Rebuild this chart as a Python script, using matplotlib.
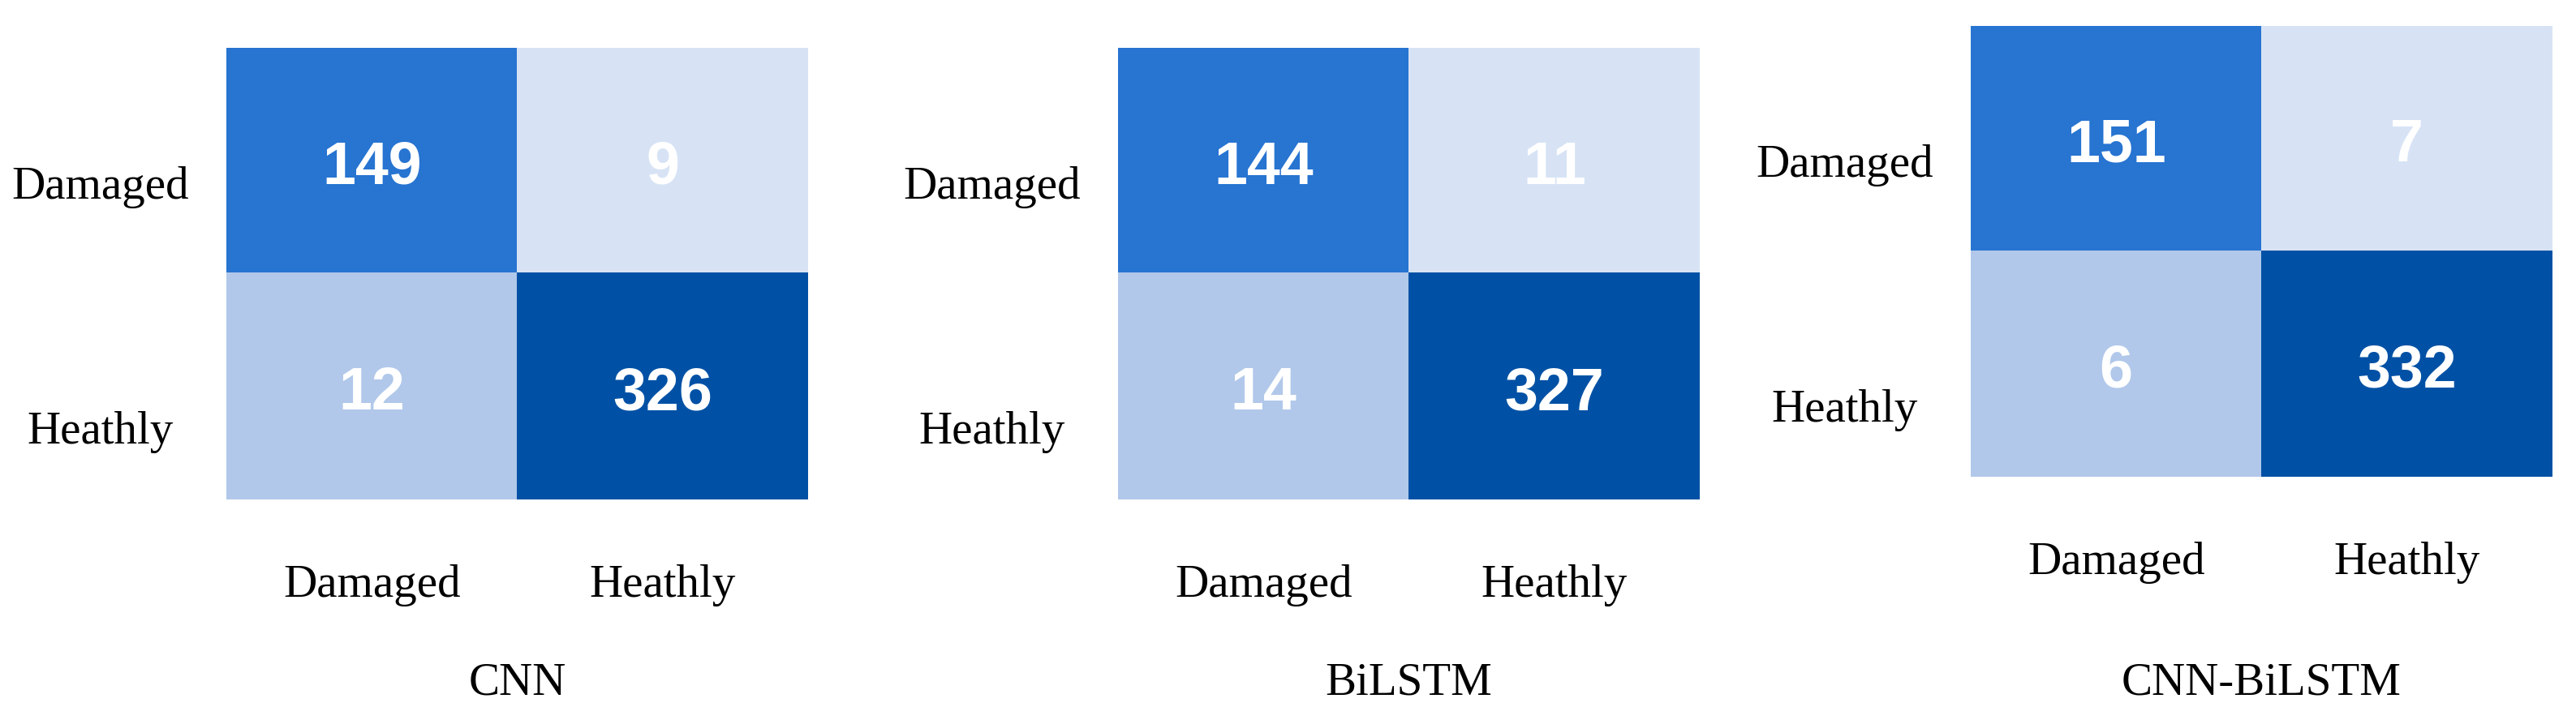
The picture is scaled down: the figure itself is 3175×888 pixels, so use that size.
import numpy as np
import matplotlib
matplotlib.use("Agg")
import matplotlib.pyplot as plt
from matplotlib.colors import ListedColormap, BoundaryNorm

# ---------------- data ----------------
models = ["CNN", "BiLSTM", "CNN-BiLSTM"]
classes = ["Damaged", "Heathly"]
cm_cnn = [[149, 9], [12, 326]]
cm_bilstm = [[144, 11], [14, 327]]
cm_cnn_bilstm = [[151, 7], [6, 332]]
matrices = [cm_cnn, cm_bilstm, cm_cnn_bilstm]

# ---------------- style ----------------
W, H = 3175, 888
DPI = 100
cell_colors = ["#D7E3F5", "#B1C8EA", "#2774D1", "#0051A5"]
bounds = [0.0, 0.035, 0.5, 0.965, 1.0001]
cmap = ListedColormap(cell_colors)
norm = BoundaryNorm(bounds, cmap.N)

serif = ["Liberation Serif", "DejaVu Serif"]
sans = ["Liberation Sans", "DejaVu Sans"]

# axes boxes in pixels: left, top, right, bottom
boxes = [(279, 59, 996, 616), (1378, 59, 2095, 616), (2429, 32, 3146, 588)]

fig = plt.figure(figsize=(W / DPI, H / DPI), dpi=DPI)
fig.patch.set_facecolor("white")

def fx(px):
    return px / W

def fy(py):
    return 1 - py / H

for name, cm, (l, t, r, b) in zip(models, matrices, boxes):
    ax = fig.add_axes([fx(l), fy(b), fx(r - l), (b - t) / H])
    arr = np.array(cm, dtype=float)
    colnorm = arr / arr.sum(axis=0, keepdims=True)
    ax.imshow(colnorm, cmap=cmap, norm=norm, aspect="auto", interpolation="nearest")
    ax.set_xlim(-0.5, 1.5)
    ax.set_ylim(1.5, -0.5)
    ax.axis("off")
    for i in range(2):
        for j in range(2):
            ax.text(j, i + 0.102, str(cm[i][j]), ha="center", va="baseline",
                    color="white", fontsize=53, fontweight="bold", family=sans)
    # x category labels
    cw = (r - l) / 2
    for j, lab in enumerate(classes):
        fig.text(fx(l + cw * (j + 0.5)), fy(b + 120), lab, ha="center", va="baseline",
                 fontsize=41, family=serif, color="black")
    # y category labels
    for py, lab in zip([t + 186, t + 488], classes):
        fig.text(fx(l - 155), fy(py), lab, ha="center", va="baseline",
                 fontsize=41, family=serif, color="black")
    # model title
    fig.text(fx((l + r) / 2), fy(856), name, ha="center", va="baseline",
             fontsize=41, family=serif, color="black")

fig.savefig("out.png", dpi=DPI, facecolor="white")
